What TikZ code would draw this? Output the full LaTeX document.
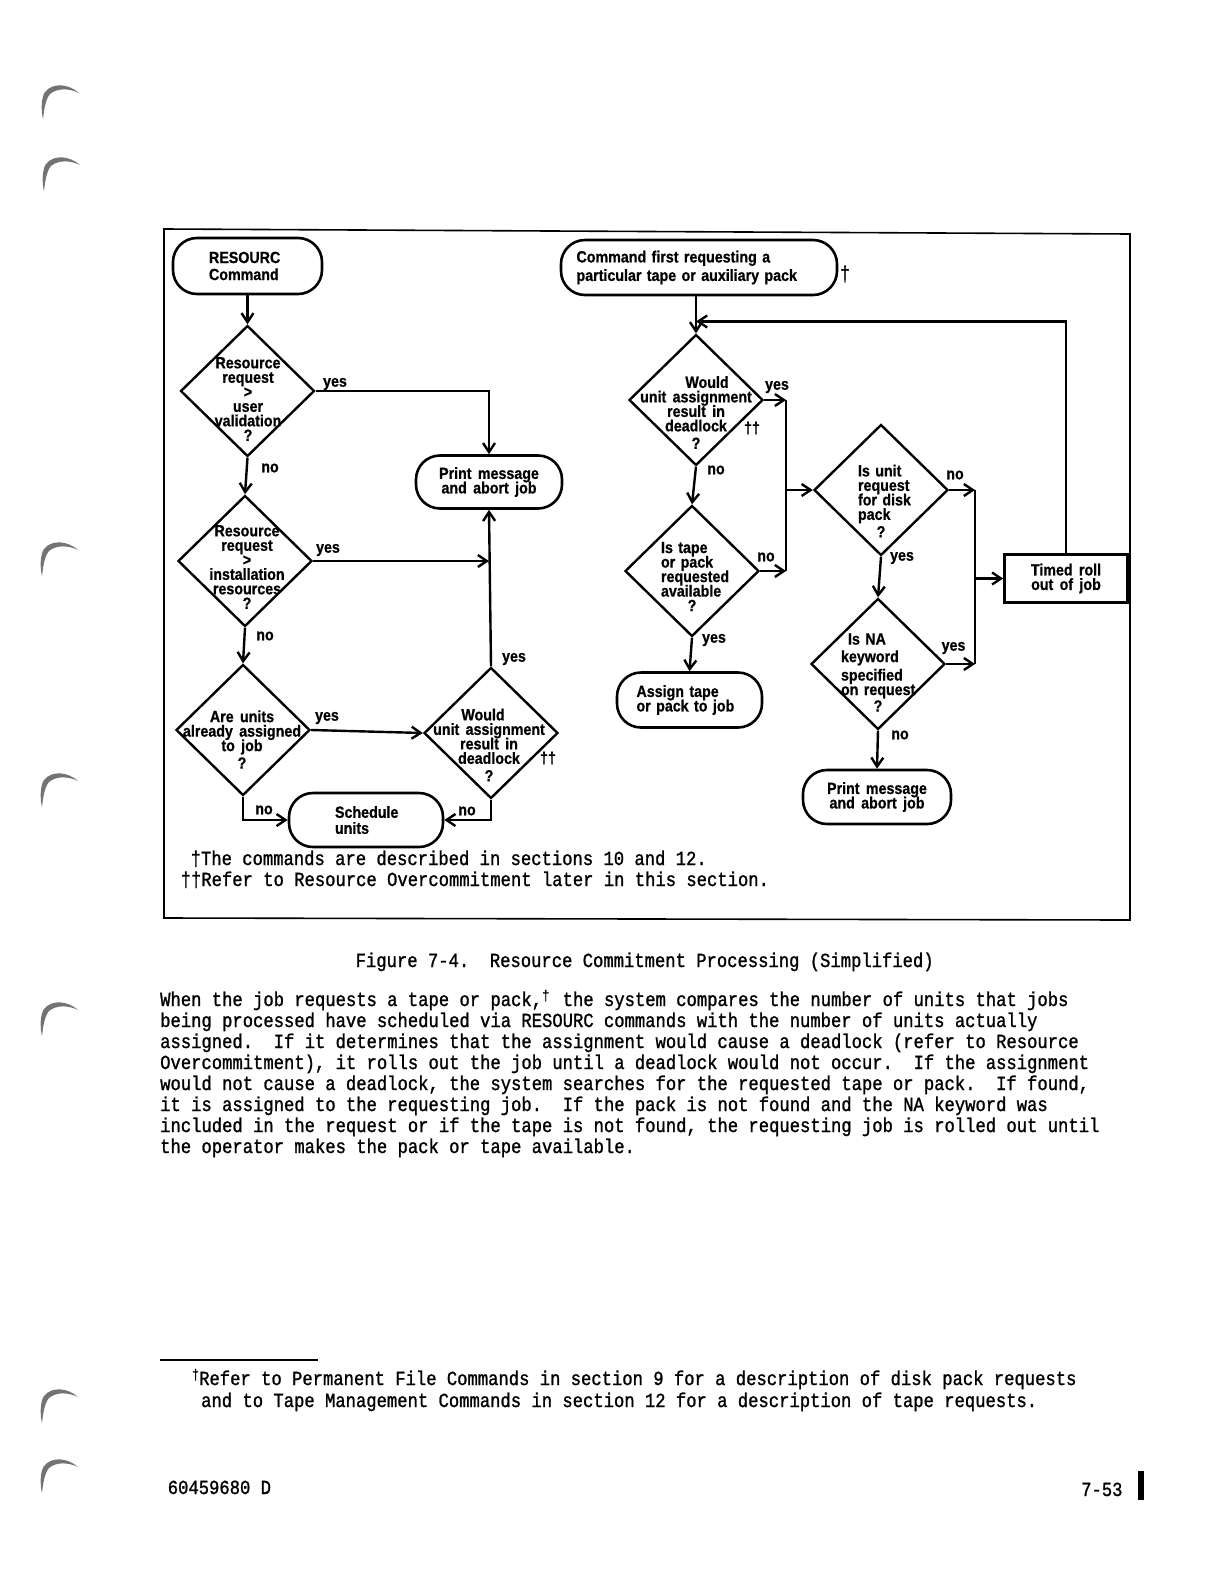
\documentclass[tikz,border=0pt]{standalone}
\usepackage{fontspec}
\usetikzlibrary{shapes.geometric,arrows.meta}
\newfontfamily\dfont[FakeStretch=0.88,WordSpace=1.6,FakeBold=0.7]{Liberation Sans}
\newfontfamily\tfont[FakeStretch=0.86,FakeBold=1.2]{Liberation Mono}
\newcommand\dsz{\dfont\bfseries\fontsize{16.2}{14.5}\selectfont\lineskiplimit=-30pt\lineskip=0pt\hyphenpenalty=10000\exhyphenpenalty=10000\relax}
\newcommand\tsz{\tfont\fontsize{20}{21}\selectfont\frenchspacing}
\newcommand\bindmark[2]{\begin{scope}[shift={(#1,#2)}]\fill[black!55] (22,10) .. controls (12,1) and (-4,-1) .. (-12,9) .. controls (-16,15) and (-16,28) .. (-14,36) .. controls (-13,28) and (-12,17) .. (-7,11) .. controls (0,5) and (12,5) .. cycle;\end{scope}}
\begin{document}
\begin{tikzpicture}[x=1pt,y=-1pt,
 term/.style={draw,line width=2.6pt,rounded corners=24pt,inner sep=0pt,font=\dsz,align=center},
 dia/.style={draw,diamond,line width=2.4pt,minimum width=134pt,minimum height=131pt,inner sep=0pt},
 dtext/.style={font=\dsz,align=center,inner sep=0pt},
 ltext/.style={font=\dsz,align=left,inner sep=0pt},
 lab/.style={font=\dsz,inner sep=0pt},
 conn/.style={line width=2.4pt},
 arr/.style={line width=2.4pt,-{Straight Barb[length=9pt,width=12pt]}},
 mono/.style={font=\tsz,inner sep=0pt,anchor=base west},
]
\useasboundingbox (0,0) rectangle (1220,1584);
\fill[white] (0,0) rectangle (1220,1584);
% binder marks
\bindmark{57}{83}
\bindmark{58}{155}
\bindmark{56}{540}
\bindmark{56}{771}
\bindmark{56}{1000}
\bindmark{56}{1387}
\bindmark{56}{1457}
% frame
\draw[line width=1.6pt] (164,229) -- (1130,234) -- (1130,920) -- (164,918) -- cycle;
% left column
\node[term,minimum width=149pt,minimum height=56pt,text width=77pt,align=left] (res) at (247.5,266) {RESOURC\\[2.5pt]Command};
\node[dia] (d1) at (247.5,391) {};
\node[dtext] (d1t) at (248,399) {Resource\\request\\>\\user\\validation\\?};
\node[dia] (d2) at (245,561) {};
\node[dtext] (d2t) at (247,567) {Resource\\request\\>\\installation\\resources\\?};
\node[dia] (d3) at (243,730) {};
\node[dtext] (d3t) at (242,739.5) {Are units\\already assigned\\to job\\[3pt]?};
\node[dia] (d4) at (491,733) {};
\node[dtext] (d4t) at (489,745) {Would\kern12pt\\unit assignment\\result in\\deadlock\\[3pt]?};
\node[lab] (dg4) at (548,758) {††};
\node[term,minimum width=146pt,minimum height=53pt] (p1) at (489,482) {Print message\\and abort job};
\node[term,minimum width=154pt,minimum height=54pt,text width=62pt,align=left] (sch) at (366,820) {Schedule\\[1.5pt]units};
% right column
\node[term,minimum width=276pt,minimum height=55pt,text width=245pt,align=left] (cmd) at (699,267.5) {Command first requesting a\\[4pt]particular tape or auxiliary pack};
\node[font=\tsz,inner sep=0pt] (dg1) at (845,274) {†};
\node[dia] (d5) at (696,400) {};
\node[dtext] (d5t) at (696,412.5) {\kern22pt Would\\unit assignment\\result in\\deadlock\\[3pt]?};
\node[lab] (dg5) at (752,428) {††};
\node[dia] (d6) at (692,571) {};
\node[ltext,text width=62pt] (d6t) at (692,576.5) {Is~tape\\or~pack\\requested\\available\\\makebox[62pt]{?}};
\node[term,minimum width=145pt,minimum height=55pt,text width=106pt,align=left] (asg) at (689.5,700) {Assign~tape\\or~pack~to~job};
\node[dia] (d7) at (881,490) {};
\node[ltext,text width=46pt] (d7t) at (881,501) {Is~unit\\request\\for~disk\\pack\\[3pt]\makebox[46pt]{?}};
\node[dia] (d8) at (878,664) {};
\node[ltext,text width=74pt] (d8t) at (878,672.5) {\kern7pt Is~NA\\\kern3pt keyword\\\kern4pt specified\\on~request\\[2pt]\makebox[74pt]{?}};
\node[term,minimum width=148pt,minimum height=54pt] (p2) at (877,797) {Print message\\and abort job};
\node[draw,line width=2.6pt,minimum width=123pt,minimum height=48pt,font=\dsz,align=center,inner sep=0pt] (tim) at (1066,578.5) {Timed roll\\out of job};
% labels
\node[lab] (l1y) at (335,384) {yes};
\node[lab] (l1n) at (270,468) {no};
\node[lab] (l2y) at (328,550) {yes};
\node[lab] (l2n) at (265,636) {no};
\node[lab] (l3y) at (327,718) {yes};
\node[lab] (l3n) at (264,810) {no};
\node[lab] (l4y) at (514,659) {yes};
\node[lab] (l4n) at (467,811) {no};
\node[lab] (l5y) at (777,387) {yes};
\node[lab] (l5n) at (716,470) {no};
\node[lab] (l6n) at (766,557) {no};
\node[lab] (l6y) at (714,640) {yes};
\node[lab] (l7n) at (955,475) {no};
\node[lab] (l7y) at (902,558) {yes};
\node[lab] (l8y) at (953.5,648) {yes};
\node[lab] (l8n) at (900,735) {no};
% connectors left
\draw[arr] (res.south) -- (d1.north);
\draw[arr] (d1.east) -| (p1.north);
\draw[arr] (d1.south) -- (d2.north);
\coordinate (j1) at (p1.south |- d2.east);
\draw[arr] (d2.east) -- (j1);
\draw[arr] (d2.south) -- (d3.north);
\draw[arr] (d3.east) -- (d4.west);
\draw[arr] (d4.north) -- (p1.south);
\draw[arr] (d3.south) |- (sch.west);
\draw[arr] (d4.south) |- (sch.east);
% connectors right
\draw[arr] (cmd.south -| d5.north) -- (d5.north);
\coordinate (fb) at (d5.north |- 0,321.5);
\draw[arr] (tim.north) |- (fb);
\draw[arr] (d5.south) -- (d6.north);
\draw[arr] (d6.south) -- (asg.north);
\coordinate (va) at (786,0 |- d5.east);
\coordinate (vb) at (786,0 |- d6.east);
\coordinate (vc) at (786,0 |- d7.west);
\draw[arr] (d5.east) -- (va);
\draw[arr] (d6.east) -- (vb);
\draw[conn] (va) -- (vb);
\draw[arr] (vc) -- (d7.west);
\coordinate (wa) at (975,0 |- d7.east);
\coordinate (wb) at (975,0 |- d8.east);
\coordinate (wc) at (975,0 |- tim.west);
\draw[arr] (d7.east) -- (wa);
\draw[arr] (d8.east) -- (wb);
\draw[conn] (wa) -- (wb);
\draw[arr] (wc) -- (tim.west);
\draw[arr] (d7.south) -- (d8.north);
\draw[arr] (d8.south) -- (p2.north);
% footnotes in frame
\node[mono] (fn1) at (190.5,865) {†The commands are described in sections 10 and 12.};
\node[mono] (fn2) at (180.5,886) {††Refer to Resource Overcommitment later in this section.};
% caption and paragraph
\node[mono] (cap) at (355.5,967) {Figure 7-4.~ Resource Commitment Processing (Simplified)};
\node[mono] (t1) at (160,1006) {When the job requests a tape or pack,\makebox[10.3pt][l]{\raisebox{6pt}{\fontsize{14}{14}\selectfont †}} the system compares the number of units that jobs};
\node[mono] (t2) at (160,1027) {being processed have scheduled via RESOURC commands with the number of units actually};
\node[mono] (t3) at (160,1048) {assigned.~ If it determines that the assignment would cause a deadlock (refer to Resource};
\node[mono] (t4) at (160,1069) {Overcommitment), it rolls out the job until a deadlock would not occur.~ If the assignment};
\node[mono] (t5) at (160,1090) {would not cause a deadlock, the system searches for the requested tape or pack.~ If found,};
\node[mono] (t6) at (160,1111) {it is assigned to the requesting job.~ If the pack is not found and the NA keyword was};
\node[mono] (t7) at (160,1132) {included in the request or if the tape is not found, the requesting job is rolled out until};
\node[mono] (t8) at (160,1153) {the operator makes the pack or tape available.};
% footnote
\draw[line width=2pt] (159.5,1360) -- (318,1360);
\node[mono] (f1) at (199,1385) {\llap{\raisebox{6pt}{\fontsize{14}{14}\selectfont †}}Refer to Permanent File Commands in section 9 for a description of disk pack requests};
\node[mono] (f2) at (201,1407) {and to Tape Management Commands in section 12 for a description of tape requests.};
% page footer
\node[mono] (pn) at (167.6,1494) {60459680 D};
\node[mono] (pg) at (1081,1496) {7-53};
\fill (1138,1471) rectangle (1144,1500);
\end{tikzpicture}
\end{document}
